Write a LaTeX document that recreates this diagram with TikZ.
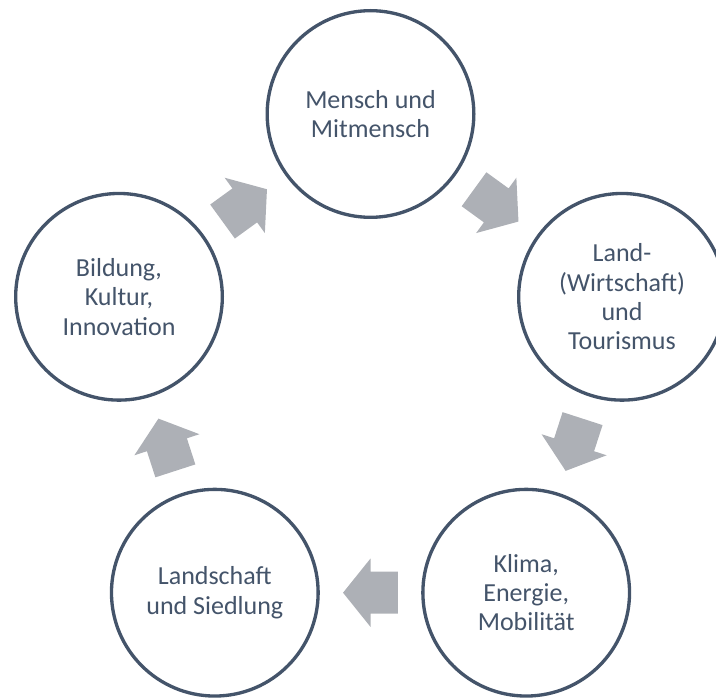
\documentclass[tikz,border=0pt]{standalone}
\usepackage{fontspec}
\setmainfont{Carlito}
\usetikzlibrary{calc}
\definecolor{txtcol}{HTML}{44546A}
\definecolor{arrcol}{HTML}{ADB0B6}
\newcommand\cycarrow[2]{%
  \coordinate (m) at ($(#1.center)!0.5!(#2.center)$);
  \coordinate (t) at ($(m)!-20.6pt!(#2.center)$);
  \coordinate (h) at ($(m)!20.6pt!(#2.center)$);
  \fill[arrowfill] ($(t)!15.75pt!90:(#2.center)$) -- ($(m)!15.75pt!90:(#2.center)$)
    -- ($(m)!25.65pt!90:(#2.center)$) -- (h) -- ($(m)!25.65pt!-90:(#2.center)$)
    -- ($(m)!15.75pt!-90:(#2.center)$) -- ($(t)!15.75pt!-90:(#2.center)$) -- cycle;
}
\tikzset{
  topic/.style={circle, draw=txtcol, line width=2.5pt, fill=white,
    minimum size=155pt, inner sep=0pt, align=center, text=txtcol,
    font=\fontsize{19.5pt}{22pt}\selectfont},
  arrowfill/.style={fill=arrcol}
}
\begin{document}
\begin{tikzpicture}[x=0.75pt, y=-0.75pt]
  \path[use as bounding box] (0,0) rectangle (716,698);
  \clip (0,0) rectangle (716,698);
  \node[topic] (top) at (370.5,114) {Mensch und\\Mitmensch};
  \node[topic] (right) at (622,296.8) {Land-\\(Wirtschaft)\\und\\Tourismus};
  \node[topic] (br) at (526.2,592.7) {Klima,\\Energie,\\Mobilität};
  \node[topic] (bl) at (214.8,592.7) {Landschaft\\und Siedlung};
  \node[topic] (left) at (119,296.8) {Bildung,\\Kultur,\\Innovation};
  \cycarrow{top}{right}
  \cycarrow{right}{br}
  \cycarrow{br}{bl}
  \cycarrow{bl}{left}
  \cycarrow{left}{top}
\end{tikzpicture}
\end{document}
